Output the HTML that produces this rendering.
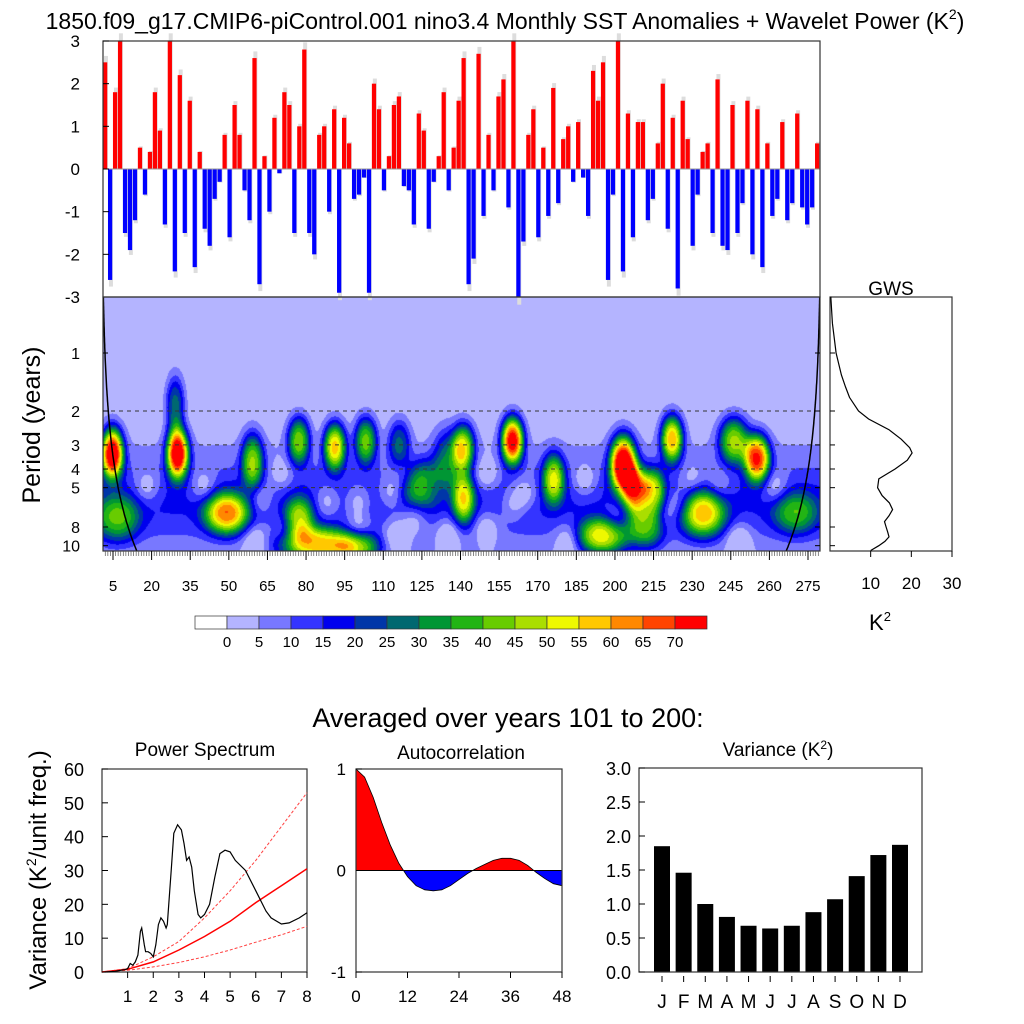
<!DOCTYPE html>
<html><head><meta charset="utf-8">
<style>
html,body{margin:0;padding:0;background:#fff;}
#wrap{position:relative;width:1024px;height:1024px;overflow:hidden;font-family:"Liberation Sans",sans-serif;}
#wv{position:absolute;left:103px;top:297px;}
#svg{position:absolute;left:0;top:0;}
text{font-family:"Liberation Sans",sans-serif;fill:#000;}
</style></head>
<body>
<div id="wrap">
<canvas id="wv" width="717" height="254"></canvas>
<svg id="svg" width="1024" height="1024" xmlns="http://www.w3.org/2000/svg">
<text x="505" y="29" font-size="23" text-anchor="middle">1850.f09_g17.CMIP6-piControl.001 nino3.4 Monthly SST Anomalies + Wavelet Power (K<tspan font-size="14" dy="-10">2</tspan><tspan dy="10">)</tspan></text>
<text transform="translate(40,425) rotate(-90)" font-size="25" text-anchor="middle">Period (years)</text>
<text x="891" y="295" font-size="19" text-anchor="middle">GWS</text>
<text x="880" y="630" font-size="22" text-anchor="middle">K<tspan font-size="13" dy="-9">2</tspan></text>
<text x="508" y="727" font-size="27" text-anchor="middle">Averaged over years 101 to 200:</text>
<text x="205" y="756" font-size="19" text-anchor="middle">Power Spectrum</text>
<text x="461" y="759" font-size="19" text-anchor="middle">Autocorrelation</text>
<text x="778" y="756" font-size="19" text-anchor="middle">Variance (K<tspan font-size="12" dy="-7">2</tspan><tspan dy="7">)</tspan></text>
<text transform="translate(46,870) rotate(-90)" font-size="24" text-anchor="middle">Variance (K<tspan font-size="14" dy="-10">2</tspan><tspan dy="10">/unit freq.)</tspan></text>
<g id="g"></g>
</svg>
</div>
<script>
// ---------- data ----------
const anomValues=[2.5,-2.6,1.8,3.0,-1.5,-1.9,-1.2,0.5,-0.6,0.4,1.8,0.9,-1.3,3.0,-2.4,2.2,-1.5,1.6,-2.3,0.4,-1.4,-1.8,-0.7,-0.3,0.8,-1.6,1.5,0.8,-0.5,-1.2,2.6,-2.7,0.3,-1.0,1.2,-0.1,1.8,1.5,-1.5,1.0,2.8,-1.5,-2.0,0.8,1.0,-1.0,1.4,-2.9,1.2,0.6,-0.7,-0.6,-0.2,-2.9,2.0,1.4,-0.5,0.3,1.5,1.7,-0.4,-0.5,-1.3,1.3,0.9,-1.4,-0.3,0.3,1.8,-0.5,0.5,1.6,2.6,-2.7,
-2.1,2.7,-1.1,0.8,-0.5,1.7,2.1,-0.9,3.0,-3.0,-1.7,0.8,1.4,-1.6,0.5,-1.1,1.9,-0.8,0.7,1.0,-0.3,1.1,-0.2,-1.1,2.3,1.6,2.5,-2.6,-0.6,3.0,-2.4,1.3,-1.6,1.1,1.1,-1.2,-0.7,0.6,2.0,-1.4,1.2,-2.8,1.6,0.7,-1.8,-0.6,0.4,0.6,-1.5,2.1,-1.8,-1.9,1.5,-1.5,-0.8,1.6,-2.0,1.4,-2.3,0.6,-1.1,-0.7,1.1,-1.2,-0.8,1.3,-0.9,-1.3,-0.9,0.6];
const anomTicks=[3,2,1,0,-1,-2,-3];
const blobYear=[4.6,29.9,29,6.5,49,84,100,77,59,77,91,103,125,141,141,160,176,203,208,222,195,234,246,255,270,215,212,116,135];
const blobLogP=[1.72,1.72,0.9,2.85,2.76,3.3,3.35,2.85,1.85,1.5,1.6,1.5,2.25,1.62,2.5,1.5,2.15,1.9,2.35,1.47,3.15,2.76,1.5,1.8,2.76,2.4,3.0,1.55,1.8];
const blobPower=[75,75,25,28,50,50,35,35,38,40,52,38,28,45,40,72,40,78,55,55,45,45,42,64,25,40,30,22,22];
const blobSx=[3,3,2.5,6,6,10,6,4,3,3,3,3,6,3,3,3,3,3.5,3.5,3,7,6,4,3.5,6,3,5,3,4];
const blobSy=[0.3,0.3,0.35,0.28,0.25,0.22,0.2,0.25,0.33,0.28,0.28,0.28,0.28,0.28,0.3,0.28,0.3,0.33,0.28,0.28,0.22,0.28,0.28,0.28,0.25,0.28,0.25,0.28,0.35];
const holeYear=[18,40,62,70,88,100,113,130,150,165,188,213,225,240,262,60,72,100,115,122,135,150,182,200,218,248,118,160,230];
const holeLogP=[2.3,2.3,2.5,2.1,2.55,2.55,2.4,2.3,2.1,2.4,2.2,2.5,2.6,2.3,2.3,3.2,3.05,3.05,3.1,2.85,3.1,3.0,3.2,2.9,2.8,3.2,2.1,2.6,2.2];
const holePower=[-12,-12,-12,-10,-12,-12,-12,-10,-12,-12,-12,-10,-12,-10,-12,-12,-10,-12,-12,-10,-12,-12,-12,-10,-10,-12,-10,-10,-10];
const levelColors=["#ffffff","#b4b4ff","#7878ff","#3434ff","#0000ee","#0036a8","#006870","#009634","#22b414","#68cc00","#aade00","#eef800","#ffc800","#ff8800","#ff4400","#ff0000"];
const levelLabels=[0,5,10,15,20,25,30,35,40,45,50,55,60,65,70];
const periodTicks=[1,2,3,4,5,8,10];
const dashedPeriods=[2,3,4,5];
const yearTicks=[5,20,35,50,65,80,95,110,125,140,155,170,185,200,215,230,245,260,275];
const gwsPeriods=[0.51,0.7,1,1.3,1.5,1.7,2,2.2,2.5,2.8,3.1,3.3,3.6,4,4.5,5,5.5,6,6.5,7,7.5,8,8.5,9,9.5,10,10.6];
const gwsValues=[0.2,0.6,1.5,2.8,3.8,4.8,7,9.5,14.5,17.5,19.6,20.2,19,16,12,11.7,12.8,14.6,15.4,14.5,13.4,13.8,14.2,14.5,13.5,12,10];
const gwsTicks=[10,20,30];
const specFreq=[0.1,0.5,0.9,1.0,1.1,1.2,1.3,1.4,1.5,1.55,1.65,1.7,1.8,1.9,2.0,2.1,2.2,2.3,2.4,2.5,2.55,2.7,2.8,2.95,3.1,3.2,3.3,3.4,3.5,3.6,3.75,3.85,4.0,4.2,4.4,4.6,4.8,5.0,5.2,5.6,6.0,6.4,6.6,7.0,7.3,7.7,8.0];
const specPower=[0,0.2,0.7,1,2.5,2,3,5,12,13,8,6,6,5.5,4.5,8,14,16,15,13,14,30,41,43.5,42,38,33,34,31,24,17,16,17,20,28,35,36,35.5,33,30,24,18,16,14.2,14.5,16,17.5];
const redFreq=[0,1,2,3,4,5,6,7,8];
const redMean=[0,0.8,3,6.5,10.5,15,20.5,25.5,30.5];
const redUpper=[0,1,4.5,9,16,24,33,43,53];
const redLower=[0,0.5,1.5,2.8,4.5,6.5,8.8,11,13.5];
const specXTicks=[1,2,3,4,5,6,7,8];
const specYTicks=[0,10,20,30,40,50,60];
const acLag=[0,2,4,6,8,10,12,14,16,18,20,22,24,26,28,30,32,34,36,38,40,42,44,46,48];
const acValue=[1,0.92,0.72,0.47,0.25,0.07,-0.06,-0.15,-0.19,-0.2,-0.19,-0.15,-0.09,-0.03,0.02,0.06,0.1,0.12,0.12,0.1,0.05,-0.02,-0.08,-0.13,-0.15];
const acXTicks=[0,12,24,36,48];
const acYTicks=[1,0,-1];
const months=["J","F","M","A","M","J","J","A","S","O","N","D"];
const monthVariance=[1.85,1.46,1.0,0.81,0.68,0.64,0.68,0.88,1.07,1.41,1.72,1.87];
const varYTicks=["0.0","0.5","1.0","1.5","2.0","2.5","3.0"];

// ---------- helpers ----------
const NS="http://www.w3.org/2000/svg";
const G=document.getElementById('g');
function el(tag,attrs,parent){const e=document.createElementNS(NS,tag);for(const k in attrs)e.setAttribute(k,attrs[k]);(parent||G).appendChild(e);return e;}
function txt(x,y,s,size,anchor){const t=el('text',{x:x,y:y,'font-size':size,'text-anchor':anchor||'middle'});t.textContent=s;return t;}

// ---------- top anomaly panel ----------
const T={x0:103,x1:820,y0:41,y1:297};
const ay=v=>169-v*(T.y1-T.y0)/6;
const gTop=el('g',{});


const bw=(T.x1-T.x0)/anomValues.length;
anomValues.forEach((v,i)=>{
  const x=T.x0+i*bw;
  const gv=v*1.06;
  const g1=el('rect',{x:x+1,y:Math.min(ay(0),ay(gv)),width:bw*0.8,height:Math.abs(ay(gv)-ay(0)),fill:'#dddddd'},gTop);
  
  
  const b=el('rect',{x:x,y:Math.min(ay(0),ay(v)),width:bw*0.85,height:Math.abs(ay(v)-ay(0)),fill:v>=0?'#ff0000':'#0000ff'},gTop);
  
  
});
el('line',{x1:T.x0,x2:T.x1,y1:ay(0),y2:ay(0),stroke:'#999','stroke-width':1});
const topFrame=el('rect',{x:T.x0,y:T.y0,width:T.x1-T.x0,height:T.y1-T.y0,fill:'none',stroke:'#333','stroke-width':1.2});


anomTicks.forEach(v=>{
  el('line',{x1:T.x0,x2:T.x0+6,y1:ay(v),y2:ay(v),stroke:'#000'});
  const t=txt(80,ay(v)+6,String(v),17,'end');
  
  
});

// ---------- wavelet ----------
const W={x0:103,x1:820,y0:297,y1:551};
const yearToX=yr=>113+(yr-5)*(808-113)/270;
const xToYear=x=>5+(x-113)*270/(808-113);
const pY=p=>353+58*Math.log2(p);
const yToL=y=>(y-353)/58;
(function(){
  const cv=document.getElementById('wv');const c=cv.getContext('2d');
  const w=cv.width,h=cv.height;const img=c.createImageData(w,h);
  const rgb=levelColors.map(s=>[parseInt(s.slice(1,3),16),parseInt(s.slice(3,5),16),parseInt(s.slice(5,7),16)]);
  for(let j=0;j<h;j++){
    const l=yToL(W.y0+j);
    const base=2+14*Math.exp(-Math.pow((l-2.55)/0.55,2)/2);
    for(let i=0;i<w;i++){
      const yr=xToYear(W.x0+i);
      let p=base;
      for(let k=0;k<blobYear.length;k++){
        const dx=(yr-blobYear[k])/blobSx[k],dy=(l-blobLogP[k])/blobSy[k];
        const e=dx*dx+dy*dy;if(e<25)p+=blobPower[k]*Math.exp(-Math.pow(e/2,1.25));
      }
      for(let k=0;k<holeYear.length;k++){
        const dx=(yr-holeYear[k])/3.5,dy=(l-holeLogP[k])/0.2;
        const e=dx*dx+dy*dy;if(e<16)p+=holePower[k]*Math.exp(-e/2);
      }
      let lev=p<0?1:Math.min(15,1+Math.floor(p/5));
      const col=rgb[lev];const o=(j*w+i)*4;
      img.data[o]=col[0];img.data[o+1]=col[1];img.data[o+2]=col[2];img.data[o+3]=255;
    }
  }
  c.putImageData(img,0,0);
})();
dashedPeriods.forEach(p=>{
  const d=el('line',{x1:W.x0,x2:W.x1,y1:pY(p),y2:pY(p),stroke:'#333','stroke-dasharray':'4,4','stroke-width':1});
  
  
});
(function(){
  let a='',b='';
  for(let y=W.y0;y<=W.y1;y+=2){const P=Math.pow(2,yToL(y));const dt=P/0.78;
    a+=(a?'L':'M')+yearToX(0.6+dt).toFixed(1)+','+y;
    b+=(b?'L':'M')+yearToX(280.2-dt).toFixed(1)+','+y;}
  const c1=el('path',{d:a,fill:'none',stroke:'#000','stroke-width':1.5});
  
  
  const c2=el('path',{d:b,fill:'none',stroke:'#000','stroke-width':1.5});
  
  
})();
const wf=el('rect',{x:W.x0,y:W.y0,width:W.x1-W.x0,height:W.y1-W.y0,fill:'none',stroke:'#333','stroke-width':1.2});


periodTicks.forEach(p=>{
  el('line',{x1:W.x0,x2:W.x0+5,y1:pY(p),y2:pY(p),stroke:'#000'});
  el('line',{x1:W.x1-5,x2:W.x1,y1:pY(p),y2:pY(p),stroke:'#000'});
  const t=txt(80,pY(p)+6,String(p),16,'end');
  
  
});
for(let yr=1;yr<=280;yr++){const x=yearToX(yr);if(x<W.x0||x>W.x1)continue;
  el('line',{x1:x,x2:x,y1:W.y1,y2:W.y1+5,stroke:'#555','stroke-width':0.7});}
yearTicks.forEach(yr=>{
  el('line',{x1:yearToX(yr),x2:yearToX(yr),y1:W.y1,y2:W.y1+9,stroke:'#000','stroke-width':1});
  const t=txt(yearToX(yr),591,String(yr),15);
  
  
});

// ---------- GWS ----------
const GW={x0:830,x1:952};
const gx=v=>GW.x0+v*(GW.x1-GW.x0)/30;
const gf=el('rect',{x:GW.x0,y:W.y0,width:GW.x1-GW.x0,height:W.y1-W.y0,fill:'none',stroke:'#333','stroke-width':1.2});


const gl=el('path',{d:gwsPeriods.map((p,i)=>(i?'L':'M')+gx(gwsValues[i]).toFixed(1)+','+pY(p).toFixed(1)).join(''),fill:'none',stroke:'#000','stroke-width':1.2});


periodTicks.forEach(p=>el('line',{x1:GW.x0,x2:GW.x0+5,y1:pY(p),y2:pY(p),stroke:'#000'}));
gwsTicks.forEach(v=>{
  el('line',{x1:gx(v),x2:gx(v),y1:W.y1,y2:W.y1+6,stroke:'#000'});
  const t=txt(gx(v),589,String(v),17);
  
  
});

// ---------- colorbar ----------
const CB={x0:195,y0:616,w:32,h:13};
levelColors.forEach((c,i)=>{
  const r=el('rect',{x:CB.x0+i*CB.w,y:CB.y0,width:CB.w,height:CB.h,fill:c,stroke:'#333','stroke-width':0.7});
  
  
});
levelLabels.forEach((v,i)=>{
  const t=txt(CB.x0+(i+1)*CB.w,647,String(v),15);
  
  
});

// ---------- power spectrum ----------
const PS={x0:102,x1:307,y0:769,y1:972};
const sx=f=>PS.x0+f*(PS.x1-PS.x0)/8;
const sy=v=>PS.y1-v*(PS.y1-PS.y0)/60;
const line=(xs,ys,fx,fy)=>xs.map((x,i)=>(i?'L':'M')+fx(x).toFixed(1)+','+fy(ys[i]).toFixed(1)).join('');
const psf=el('rect',{x:PS.x0,y:PS.y0,width:PS.x1-PS.x0,height:PS.y1-PS.y0,fill:'none',stroke:'#333','stroke-width':1.2});


const pu=el('path',{d:line(redFreq,redUpper,sx,sy),fill:'none',stroke:'#ff4040','stroke-width':1,'stroke-dasharray':'3,2'});


const pl=el('path',{d:line(redFreq,redLower,sx,sy),fill:'none',stroke:'#ff4040','stroke-width':1,'stroke-dasharray':'3,2'});


const pm=el('path',{d:line(redFreq,redMean,sx,sy),fill:'none',stroke:'#ff0000','stroke-width':1.5});


const sp=el('path',{d:line(specFreq,specPower,sx,sy),fill:'none',stroke:'#000','stroke-width':1.2});


specXTicks.forEach(f=>{el('line',{x1:sx(f),x2:sx(f),y1:PS.y1,y2:PS.y1+6,stroke:'#000'});
  const t=txt(sx(f),1002,String(f),17);
  
  });
specYTicks.forEach(v=>{el('line',{x1:PS.x0,x2:PS.x0+6,y1:sy(v),y2:sy(v),stroke:'#000'});
  const t=txt(84,sy(v)+7,String(v),18,'end');
  
  });

// ---------- autocorrelation ----------
const AC={x0:356,x1:562,y0:769,y1:972};
const cx=l=>AC.x0+l*(AC.x1-AC.x0)/48;
const cy=v=>(AC.y0+AC.y1)/2-v*(AC.y1-AC.y0)/2;
const defs=el('defs',{});
const cp1=el('clipPath',{id:'acpos'},defs);el('rect',{x:AC.x0,y:AC.y0,width:AC.x1-AC.x0,height:cy(0)-AC.y0},cp1);
const cp2=el('clipPath',{id:'acneg'},defs);el('rect',{x:AC.x0,y:cy(0),width:AC.x1-AC.x0,height:AC.y1-cy(0)},cp2);
const acPath=line(acLag,acValue,cx,cy);
const fillD=acPath+'L'+cx(acLag[acLag.length-1])+','+cy(0)+'L'+cx(0)+','+cy(0)+'Z';
const fp=el('path',{d:fillD,fill:'#ff0000','clip-path':'url(#acpos)'});


const fn=el('path',{d:fillD,fill:'#0000ff','clip-path':'url(#acneg)'});


el('path',{d:acPath,fill:'none',stroke:'#000','stroke-width':0.8});
el('line',{x1:AC.x0,x2:AC.x1,y1:cy(0),y2:cy(0),stroke:'#000'});
const acf=el('rect',{x:AC.x0,y:AC.y0,width:AC.x1-AC.x0,height:AC.y1-AC.y0,fill:'none',stroke:'#333','stroke-width':1.2});


acXTicks.forEach(l=>{el('line',{x1:cx(l),x2:cx(l),y1:AC.y1,y2:AC.y1+6,stroke:'#000'});
  const t=txt(cx(l),1002,String(l),17);
  
  });
acYTicks.forEach(v=>{el('line',{x1:AC.x0,x2:AC.x0+6,y1:cy(v),y2:cy(v),stroke:'#000'});
  const t=txt(346,cy(v)+6,String(v),17,'end');
  
  });

// ---------- variance ----------
const V={x0:639,x1:922,y0:768,y1:972};
const vx=i=>662+i*(900-662)/11;
const vy=v=>V.y1-v*(V.y1-V.y0)/3;
monthVariance.forEach((v,i)=>{
  const r=el('rect',{x:vx(i)-8,y:vy(v),width:16,height:V.y1-vy(v),fill:'#000'});
  
  
  el('line',{x1:vx(i),x2:vx(i),y1:V.y1+4,y2:V.y1+10,stroke:'#000'});
  const t=txt(vx(i),1008,months[i],19);
  
  
});
const vf=el('rect',{x:V.x0,y:V.y0,width:V.x1-V.x0,height:V.y1-V.y0,fill:'none',stroke:'#333','stroke-width':1.2});


varYTicks.forEach(s=>{const v=parseFloat(s);
  el('line',{x1:V.x0,x2:V.x0+6,y1:vy(v),y2:vy(v),stroke:'#000'});
  const t=txt(631,vy(v)+7,s,18,'end');
  
  });
</script>
</body></html>
